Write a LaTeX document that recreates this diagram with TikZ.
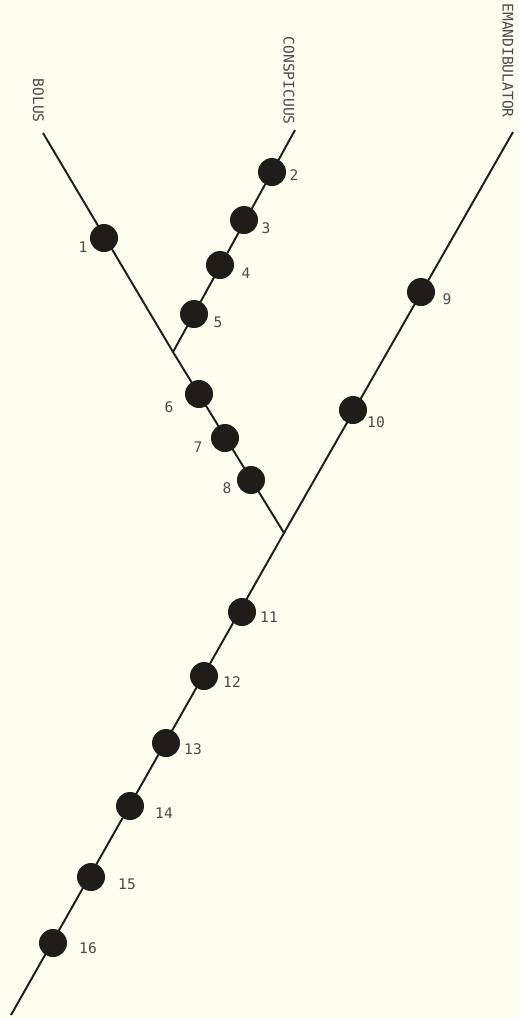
\documentclass[tikz,border=0pt]{standalone}
\usepackage{fontspec}
\newfontfamily\plotfont{DejaVu Sans Mono}
\usepackage{xcolor}
\usepackage{tikz}
\usetikzlibrary{positioning}

\definecolor{paper}{RGB}{253,254,238}
\definecolor{ink}{RGB}{32,28,26}
\definecolor{lettering}{RGB}{78,74,72}

\begin{document}
\begin{tikzpicture}[
  x=0.02cm, y=-0.02cm,
  font=\plotfont\fontsize{8.3}{9}\selectfont,
  % Styles
  branch/.style={draw=ink, line width=1.1pt},
  dot/.style={circle, fill=ink, inner sep=0pt, minimum size=0.56cm},
  num/.style={text=lettering, inner sep=0pt},
  taxon/.style={text=lettering, inner sep=0pt, rotate=-90, anchor=east}
]

% ── Sheet ────────────────────────────────────────────────────────────────────
\useasboundingbox (0,0) rectangle (519,1018);
\fill[paper] (0,0) rectangle (519,1018);

% ── Branch ends and forks ────────────────────────────────────────────────────
\coordinate (tipB) at (43,133);
\coordinate (tipC) at (295,130);
\coordinate (tipE) at (513,132);
\coordinate (j1)   at (173,352);
\coordinate (j2)   at (284,533);
\coordinate (root) at (11,1015);

% ── Taxon names ──────────────────────────────────────────────────────────────
\node[taxon] (bolus) at (38.5,123) {BOLUS};
\node[taxon] (consp) at (289,125)  {CONSPICUUS};
\node[taxon] (emand) at (508,118)  {EMANDIBULATOR};

% ── Branches ─────────────────────────────────────────────────────────────────
\draw[branch] (tipB) -- (j1) -- (j2);
\draw[branch] (tipC) -- (j1);
\draw[branch] (tipE) -- (j2) -- (root);

% ── Character-state dots ─────────────────────────────────────────────────────
\node[dot] (d1)  at (104,238) {};
\node[dot] (d2)  at (272,172) {};
\node[dot] (d3)  at (244,220) {};
\node[dot] (d4)  at (220,265) {};
\node[dot] (d5)  at (194,314) {};
\node[dot] (d6)  at (199,394) {};
\node[dot] (d7)  at (225,438) {};
\node[dot] (d8)  at (251,480) {};
\node[dot] (d9)  at (421,292) {};
\node[dot] (d10) at (353,410) {};
\node[dot] (d11) at (242,612) {};
\node[dot] (d12) at (204,676) {};
\node[dot] (d13) at (166,743) {};
\node[dot] (d14) at (130,806) {};
\node[dot] (d15) at (91,877)  {};
\node[dot] (d16) at (53,943)  {};

% ── Dot numbers ──────────────────────────────────────────────────────────────
\node[num] (n1)  at (83,247)  {1};
\node[num] (n2)  at (294,175) {2};
\node[num] (n3)  at (266,228) {3};
\node[num] (n4)  at (246,273) {4};
\node[num] (n5)  at (218,322) {5};
\node[num] (n6)  at (169,407) {6};
\node[num] (n7)  at (198,447) {7};
\node[num] (n8)  at (227,488) {8};
\node[num] (n9)  at (447,299) {9};
\node[num] (n10) at (376,422) {10};
\node[num] (n11) at (269,617) {11};
\node[num] (n12) at (232,682) {12};
\node[num] (n13) at (193,749) {13};
\node[num] (n14) at (164,813) {14};
\node[num] (n15) at (127,884) {15};
\node[num] (n16) at (88,948)  {16};

\end{tikzpicture}
\end{document}
